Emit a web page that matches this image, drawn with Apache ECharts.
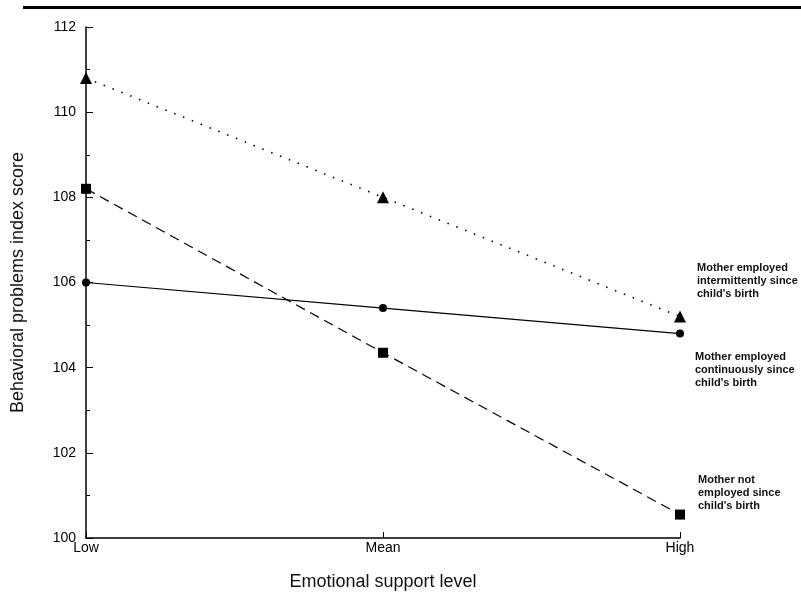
<!DOCTYPE html>
<html>
<head>
<meta charset="utf-8">
<script src="https://cdn.jsdelivr.net/npm/echarts@6/dist/echarts.min.js"></script>
<style>
  html, body { margin: 0; padding: 0; background: #fff; }
  #chart { width: 801px; height: 593px; }
</style>
</head>
<body>
<div id="chart"></div>
<script>
// emotional support levels
const levels = ["Low", "Mean", "High"];
// behavioral problems index score per group
const intermittent = [110.8, 108.0, 105.2];
const continuous = [106.0, 105.4, 104.8];
const notEmployed = [108.2, 104.35, 100.55];
const yTicks = [100, 102, 104, 106, 108, 110, 112];

const txt = "Liberation Sans, Arial, sans-serif";

let option = {
  animation: false,
  backgroundColor: "#fff",
  grid: { left: 86, right: 121, top: 27, bottom: 55, outerBoundsMode: "none", containLabel: false },
  xAxis: {
    type: "category",
    data: levels,
    boundaryGap: false,
    name: "Emotional support level",
    nameLocation: "middle",
    nameGap: 35,
    nameTextStyle: { fontFamily: txt, fontSize: 18, color: "#111" },
    axisLine: { lineStyle: { color: "#000", width: 1.5 } },
    axisTick: { inside: true, length: 6, lineStyle: { color: "#000" } },
    axisLabel: { fontFamily: txt, fontSize: 14, color: "#000", margin: 3 },
    splitLine: { show: false }
  },
  yAxis: {
    type: "value",
    min: yTicks[0],
    max: yTicks[yTicks.length - 1],
    interval: 2,
    name: "Behavioral problems index score",
    nameLocation: "middle",
    nameGap: 59,
    nameTextStyle: { fontFamily: txt, fontSize: 18, color: "#111" },
    axisLine: { show: true, lineStyle: { color: "#000", width: 1.5 } },
    axisTick: { show: true, inside: true, length: 7, lineStyle: { color: "#000" } },
    minorTick: { show: true, splitNumber: 2, length: 4, lineStyle: { color: "#000" } },
    axisLabel: { fontFamily: txt, fontSize: 14, color: "#000", margin: 10 },
    splitLine: { show: false }
  },
  graphic: [
    { type: "rect", left: 23, top: 6, shape: { width: 778, height: 3 }, style: { fill: "#000" } },
    {
      type: "text", left: 697, top: 261,
      style: { text: "Mother employed\nintermittently since\nchild's birth", font: "bold 11px " + txt, fill: "#111", lineHeight: 13 }
    },
    {
      type: "text", left: 695, top: 350,
      style: { text: "Mother employed\ncontinuously since\nchild's birth", font: "bold 11px " + txt, fill: "#111", lineHeight: 13 }
    },
    {
      type: "text", left: 698, top: 473,
      style: { text: "Mother not\nemployed since\nchild's birth", font: "bold 11px " + txt, fill: "#111", lineHeight: 13 }
    }
  ],
  series: [
    {
      name: "Mother employed intermittently since child's birth",
      type: "line",
      data: intermittent,
      symbol: "triangle",
      symbolSize: 12,
      itemStyle: { color: "#000" },
      lineStyle: { color: "#000", width: 1.6, type: [1.5, 8] }
    },
    {
      name: "Mother employed continuously since child's birth",
      type: "line",
      data: continuous,
      symbol: "circle",
      symbolSize: 8,
      itemStyle: { color: "#000" },
      lineStyle: { color: "#000", width: 1.2, type: "solid" }
    },
    {
      name: "Mother not employed since child's birth",
      type: "line",
      data: notEmployed,
      symbol: "rect",
      symbolSize: 10,
      itemStyle: { color: "#000" },
      lineStyle: { color: "#000", width: 1.2, type: [10, 6] }
    }
  ]
};

let chart = echarts.init(document.getElementById("chart"));
chart.setOption(option);
</script>
</body>
</html>
